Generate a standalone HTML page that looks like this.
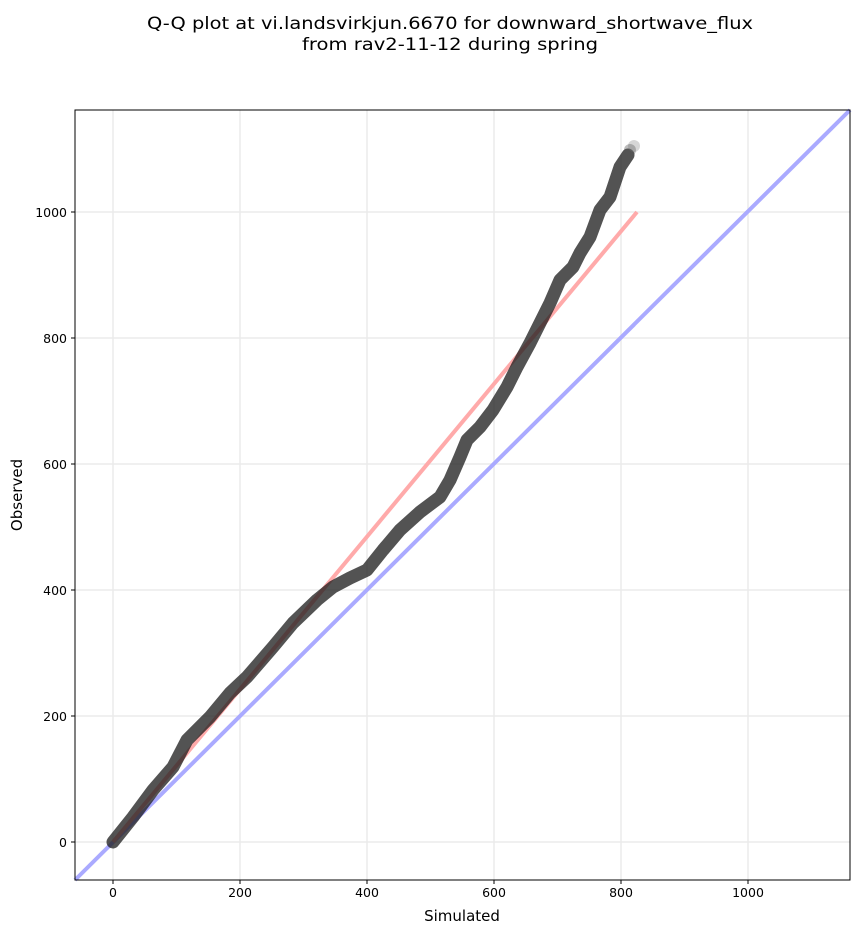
<!DOCTYPE html><html><head><style>body{margin:0;background:#fff}text{font-family:"DejaVu Sans",sans-serif}</style></head><body>
<svg width="860" height="934" xmlns="http://www.w3.org/2000/svg">
<rect width="860" height="934" fill="#fff"/>
<text x="450" y="29" text-anchor="middle" font-size="17" textLength="606" lengthAdjust="spacingAndGlyphs">Q-Q plot at vi.landsvirkjun.6670 for downward_shortwave_flux</text>
<text x="450" y="50" text-anchor="middle" font-size="17" textLength="296" lengthAdjust="spacingAndGlyphs">from rav2-11-12 during spring</text>
<g stroke="#ebebeb" stroke-width="1.5">
<line x1="113" y1="110" x2="113" y2="880"/><line x1="240" y1="110" x2="240" y2="880"/><line x1="367" y1="110" x2="367" y2="880"/><line x1="494" y1="110" x2="494" y2="880"/><line x1="621" y1="110" x2="621" y2="880"/><line x1="748" y1="110" x2="748" y2="880"/>
<line x1="75" y1="842" x2="850" y2="842"/><line x1="75" y1="716" x2="850" y2="716"/><line x1="75" y1="590" x2="850" y2="590"/><line x1="75" y1="464" x2="850" y2="464"/><line x1="75" y1="338" x2="850" y2="338"/><line x1="75" y1="212" x2="850" y2="212"/>
</g>
<line x1="75" y1="880" x2="850" y2="110" stroke="#aaaaff" stroke-width="4"/>
<line x1="113" y1="842" x2="637" y2="212" stroke="#ffaaaa" stroke-width="4"/>
<polyline fill="none" stroke="#1a1a1a" stroke-opacity="0.75" stroke-width="13" stroke-linecap="round" stroke-linejoin="round" points="113,842 133,817 153,790 173,767 187,740 210,717 230,693 247,677 273,647 293,623 317,600 333,587 350,578 367,570 383,550 400,530 420,512 440,497 450,480 460,457 467,440 480,427 493,410 507,387 517,367 530,343 540,323 550,303 560,280 573,267 580,253 590,237 600,210 610,197 620,167 628,155"/>
<circle cx="630" cy="150" r="6" fill="#555" fill-opacity="0.4"/>
<circle cx="634" cy="146" r="6" fill="#777" fill-opacity="0.3"/>
<rect x="75" y="110" width="775" height="770" fill="none" stroke="#000" stroke-width="1"/>
<g font-size="12.5" text-anchor="middle">
<text x="113" y="897">0</text><text x="240" y="897">200</text><text x="367" y="897">400</text><text x="494" y="897">600</text><text x="621" y="897">800</text><text x="748" y="897">1000</text>
</g>
<g stroke="#000"><line x1="113" y1="880" x2="113" y2="884"/><line x1="240" y1="880" x2="240" y2="884"/><line x1="367" y1="880" x2="367" y2="884"/><line x1="494" y1="880" x2="494" y2="884"/><line x1="621" y1="880" x2="621" y2="884"/><line x1="748" y1="880" x2="748" y2="884"/>
<line x1="71" y1="842" x2="75" y2="842"/><line x1="71" y1="716" x2="75" y2="716"/><line x1="71" y1="590" x2="75" y2="590"/><line x1="71" y1="464" x2="75" y2="464"/><line x1="71" y1="338" x2="75" y2="338"/><line x1="71" y1="212" x2="75" y2="212"/></g>
<g font-size="12.5" text-anchor="end">
<text x="67" y="847">0</text><text x="67" y="721">200</text><text x="67" y="595">400</text><text x="67" y="469">600</text><text x="67" y="343">800</text><text x="67" y="217">1000</text>
</g>
<text x="462" y="921" text-anchor="middle" font-size="15">Simulated</text>
<text transform="translate(22,495) rotate(-90)" text-anchor="middle" font-size="15">Observed</text>
</svg></body></html>
